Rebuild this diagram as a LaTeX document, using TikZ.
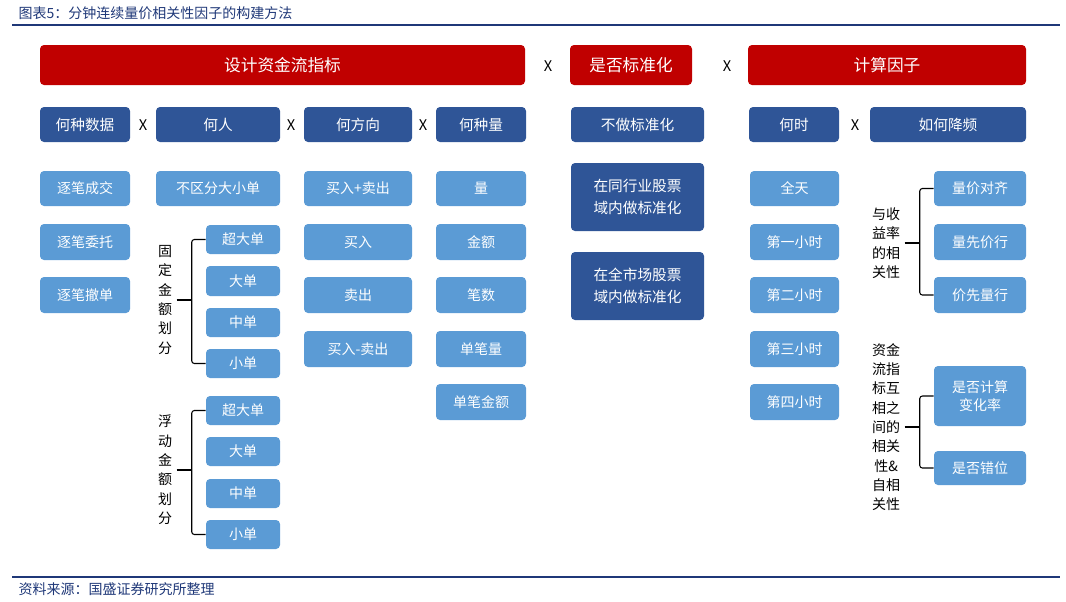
\documentclass[tikz,border=0pt]{standalone}
\usepackage{fontspec}
\setmainfont{Noto Sans CJK SC}
\usetikzlibrary{positioning,calc}
\definecolor{hdred}{RGB}{192,0,0}
\definecolor{dkblue}{RGB}{47,85,151}
\definecolor{ltblue}{RGB}{91,155,213}
\definecolor{ttlblue}{RGB}{31,56,120}
\tikzset{
  redbox/.style={fill=hdred, rounded corners=3pt, text=white, font=\fontsize{12.5}{14}\selectfont, inner sep=0pt},
  dkbox/.style={fill=dkblue, rounded corners=3pt, text=white, font=\fontsize{11}{13}\selectfont, inner sep=0pt},
  ltbox/.style={fill=ltblue, rounded corners=3pt, text=white, font=\fontsize{10.5}{14}\selectfont, inner sep=0pt, align=center},
  cross/.style={font=\fontsize{11}{13}\selectfont},
  vlab/.style={font=\fontsize{10.5}{14.5}\selectfont, align=center},
  brk/.style={thick, rounded corners=2pt}
}
% box from pixel corners
\newcommand{\pbox}[6]{\node[#1, minimum width={(#4-#2)*0.75pt}, minimum height={(#5-#3)*0.75pt}] (#6) at ({(#2+#4)/2},{(#3+#5)/2})}
\begin{document}
\begin{tikzpicture}[x=0.75pt, y=-0.75pt]
		\useasboundingbox (0,0) rectangle (1066,601);
		% title and rules
		\node[anchor=west, text=ttlblue, font=\fontsize{10.5}{12}\selectfont\itshape] (title) at (14,13) {图表5：分钟连续量价相关性因子的构建方法};
		\coordinate (t1) at (12,25); \coordinate (t2) at (1060,25);
		\draw[ttlblue, thick] (t1) -- (t2);
		\coordinate (b1) at (12,577); \coordinate (b2) at (1060,577);
		\draw[ttlblue, thick] (b1) -- (b2);
		\node[anchor=west, text=ttlblue, font=\fontsize{10.5}{12}\selectfont\itshape] (src) at (14,589) {资料来源：国盛证券研究所整理};

		% Header row
		\pbox{redbox}{40}{45}{525}{85}{design} {设计资金流指标};
		\node[cross] (x1) at (548,66) {X};
		\pbox{redbox}{570}{45}{692}{85}{norm} {是否标准化};
		\node[cross] (x2) at (727,66) {X};
		\pbox{redbox}{748}{45}{1026}{85}{calc} {计算因子};

		% Second row
		\pbox{dkbox}{40}{107}{130}{142}{data} {何种数据};
		\node[cross] (x3) at (143,125) {X};
		\pbox{dkbox}{156}{107}{280}{142}{who} {何人};
		\node[cross] (x4) at (291,125) {X};
		\pbox{dkbox}{304}{107}{412}{142}{dir} {何方向};
		\node[cross] (x5) at (423,125) {X};
		\pbox{dkbox}{436}{107}{526}{142}{vol} {何种量};
		\pbox{dkbox}{571}{107}{704}{142}{nonorm} {不做标准化};
		\pbox{dkbox}{749}{107}{839}{142}{when} {何时};
		\node[cross] (x6) at (855,125) {X};
		\pbox{dkbox}{870}{107}{1026}{142}{freq} {如何降频};

		% Data column
		\pbox{ltbox}{40}{171}{130}{206}{d1} {逐笔成交};
		\pbox{ltbox}{40}{224}{130}{260}{d2} {逐笔委托};
		\pbox{ltbox}{40}{277}{130}{313}{d3} {逐笔撤单};

		% Who column
		\pbox{ltbox}{156}{171}{280}{206}{w0} {不区分大小单};
		\pbox{ltbox}{206}{225}{280}{254}{f1} {超大单};
		\pbox{ltbox}{206}{266}{280}{296}{f2} {大单};
		\pbox{ltbox}{206}{308}{280}{337}{f3} {中单};
		\pbox{ltbox}{206}{349}{280}{378}{f4} {小单};
		\pbox{ltbox}{206}{396}{280}{425}{g1} {超大单};
		\pbox{ltbox}{206}{437}{280}{466}{g2} {大单};
		\pbox{ltbox}{206}{479}{280}{508}{g3} {中单};
		\pbox{ltbox}{206}{520}{280}{549}{g4} {小单};
		\node[vlab] (fixlab) at (165,300) {固\\定\\金\\额\\划\\分};
		\node[vlab] (flolab) at (165,470) {浮\\动\\金\\额\\划\\分};
		\draw[brk] (f1.west) -- ++(-14,0) |- (f4.west);
		\draw[brk] (fixlab.east) -- (fixlab.east -| 192,0);
		\draw[brk] (g1.west) -- ++(-14,0) |- (g4.west);
		\draw[brk] (flolab.east) -- (flolab.east -| 192,0);

		% Direction column
		\pbox{ltbox}{304}{171}{412}{206}{r1} {买入+卖出};
		\pbox{ltbox}{304}{224}{412}{260}{r2} {买入};
		\pbox{ltbox}{304}{277}{412}{313}{r3} {卖出};
		\pbox{ltbox}{304}{331}{412}{367}{r4} {买入-卖出};

		% Volume column
		\pbox{ltbox}{436}{171}{526}{206}{v1} {量};
		\pbox{ltbox}{436}{224}{526}{260}{v2} {金额};
		\pbox{ltbox}{436}{277}{526}{313}{v3} {笔数};
		\pbox{ltbox}{436}{331}{526}{367}{v4} {单笔量};
		\pbox{ltbox}{436}{384}{526}{420}{v5} {单笔金额};

		% Normalisation column
		\pbox{dkbox,align=center,font=\fontsize{11}{16}\selectfont}{571}{163}{704}{231}{n1} {在同行业股票\\域内做标准化};
		\pbox{dkbox,align=center,font=\fontsize{11}{16}\selectfont}{571}{252}{704}{320}{n2} {在全市场股票\\域内做标准化};

		% When column
		\pbox{ltbox}{750}{171}{839}{206}{h0} {全天};
		\pbox{ltbox}{750}{224}{839}{260}{h1} {第一小时};
		\pbox{ltbox}{750}{277}{839}{313}{h2} {第二小时};
		\pbox{ltbox}{750}{331}{839}{367}{h3} {第三小时};
		\pbox{ltbox}{750}{384}{839}{420}{h4} {第四小时};

		% Frequency column
		\pbox{ltbox}{934}{171}{1026}{206}{c1} {量价对齐};
		\pbox{ltbox}{934}{224}{1026}{260}{c2} {量先价行};
		\pbox{ltbox}{934}{277}{1026}{313}{c3} {价先量行};
		\pbox{ltbox}{934}{366}{1026}{426}{c4} {是否计算\\变化率};
		\pbox{ltbox}{934}{451}{1026}{485}{c5} {是否错位};
		\node[vlab] (retlab) at (886,243) {与收\\益率\\的相\\关性};
		\node[vlab] (corlab) at (886,427) {资金\\流指\\标互\\相之\\间的\\相关\\性\&\\自相\\关性};
		\draw[brk] (c1.west) -- ++(-14,0) |- (c3.west);
		\draw[brk] (retlab.east) -- (retlab.east -| 920,0);
		\draw[brk] (c4.west) -- ++(-14,0) |- (c5.west);
		\draw[brk] (corlab.east) -- (corlab.east -| 920,0);
	\end{tikzpicture}
\end{document}
